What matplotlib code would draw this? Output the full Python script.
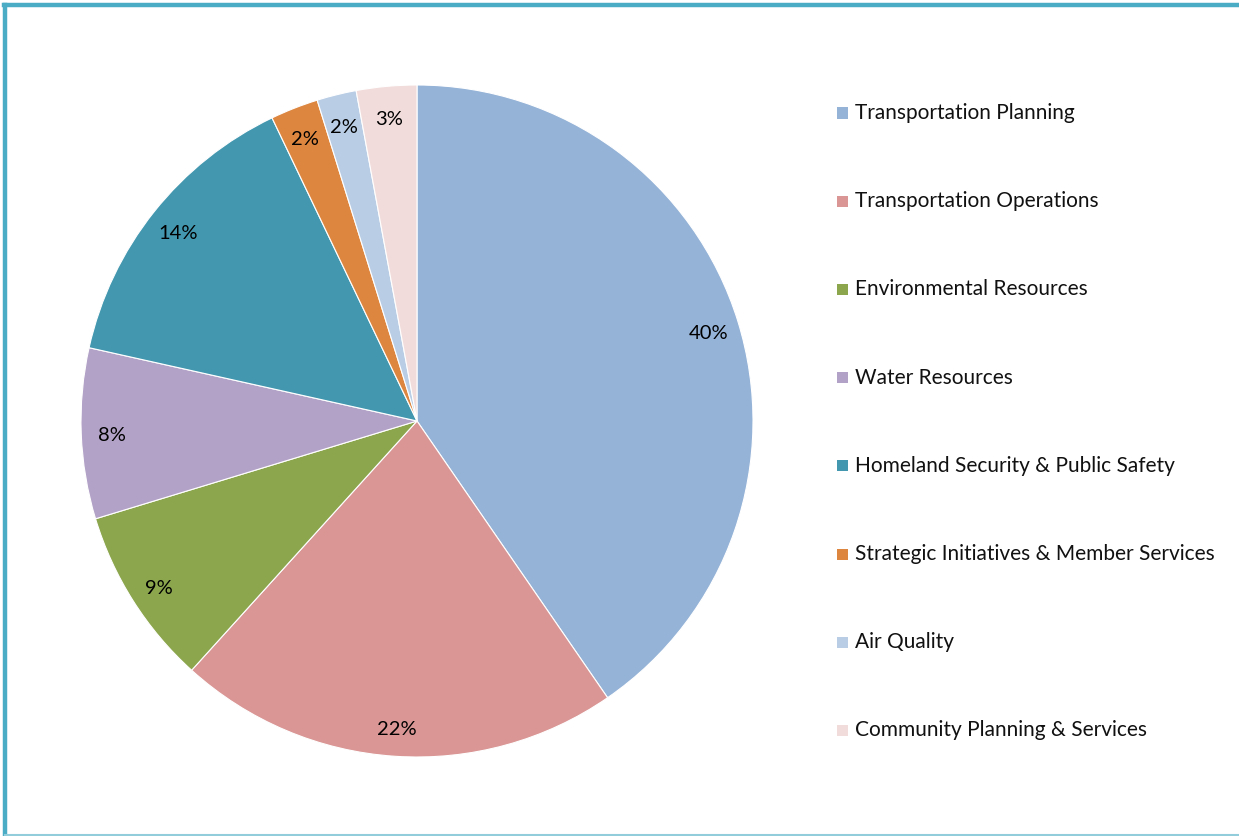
import matplotlib
matplotlib.use("Agg")
import matplotlib.pyplot as plt
import numpy as np
from matplotlib.patches import Rectangle
from matplotlib.lines import Line2D

categories = ["Transportation Planning", "Transportation Operations", "Environmental Resources",
              "Water Resources", "Homeland Security & Public Safety",
              "Strategic Initiatives & Member Services", "Air Quality",
              "Community Planning & Services"]
values = [40.4, 21.3, 8.6, 8.2, 14.4, 2.3, 1.9, 2.9]
labels_pct = ["40%", "22%", "9%", "8%", "14%", "2%", "2%", "3%"]
colors = ["#95B3D7", "#D99694", "#8BA64D", "#B3A2C7", "#4398B0", "#DD8640", "#B9CDE5", "#F2DCDB"]

plt.rcParams['font.family'] = ['Lato', 'DejaVu Sans']

W, H = 1239, 836
fig = plt.figure(figsize=(W/100, H/100), dpi=100)

cx, cy, r = 417, 421, 336
ax = fig.add_axes([(cx - r)/W, (H - cy - r)/H, 2*r/W, 2*r/H])
wedges, texts = ax.pie(values, colors=colors, startangle=90, counterclock=False,
                       radius=1, wedgeprops=dict(edgecolor="white", linewidth=0.8))
for w, lab in zip(wedges, labels_pct):
    ang = np.deg2rad((w.theta1 + w.theta2) / 2)
    ax.text(0.91*np.cos(ang), 0.91*np.sin(ang) - 0.01, lab, ha="center", va="center",
            fontsize=14.5, color="black")
ax.set_xlim(-1, 1)
ax.set_ylim(-1, 1)
ax.set_aspect("equal")
ax.axis("off")

# legend
y0, dy = 113, 88.2
for i, (c, name) in enumerate(zip(colors, categories)):
    y = y0 + i*dy
    fig.patches.append(Rectangle(((837)/W, (H - y - 5.5)/H), 11/W, 11/H,
                                 transform=fig.transFigure, facecolor=c, edgecolor="none"))
    fig.text(855/W, (H - y)/H, name, ha="left", va="center", fontsize=15, color="#111111")

# border
fig.add_artist(Line2D([5/W, 5/W], [0, (H-5)/H], transform=fig.transFigure, color="#4BACC6", linewidth=3.2))
fig.add_artist(Line2D([3.5/W, 1], [(H-5)/H, (H-5)/H], transform=fig.transFigure, color="#4BACC6", linewidth=3.2))
fig.add_artist(Line2D([5/W, 1], [1.2/H, 1.2/H], transform=fig.transFigure, color="#92CDDC", linewidth=1.5))

fig.savefig("out.png", dpi=100)
